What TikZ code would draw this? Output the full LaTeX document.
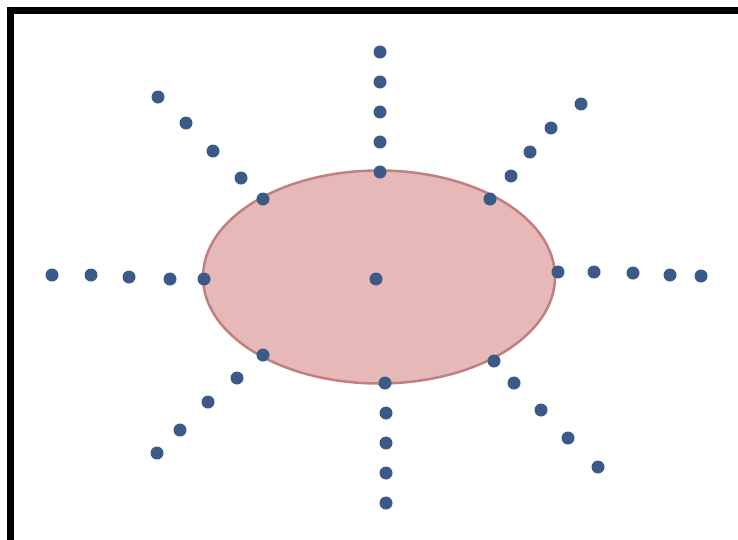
\documentclass[tikz,border=0pt]{standalone}
\usetikzlibrary{positioning,shapes.geometric}
\definecolor{SunFill}{RGB}{230,184,183}
\definecolor{SunEdge}{RGB}{192,128,128}
\definecolor{RayBlue}{RGB}{60,90,135}

\begin{document}
\begin{tikzpicture}[
    x=1pt, y=-1pt,
    sun/.style={ellipse,draw=SunEdge,fill=SunFill,line width=2.5pt,minimum width=352pt,minimum height=213pt,inner sep=0pt},
    ray/.style={circle,fill=RayBlue,minimum size=13pt,inner sep=0pt},
    frame/.style={line width=7pt,black,line join=miter}
]
\useasboundingbox (0,0) rectangle (738,539);
\draw[frame] (10.5,545) -- (10.5,10.5) -- (738,10.5);

\node[sun] (body) at (379,277) {};
\node[ray] (mid) at (376,279) {};

% rays, outer dot first
\foreach \i/\x/\y in {1/380/52, 2/380/82, 3/380/112, 4/380/142, 5/380/172}
  \node[ray] (up\i) at (\x,\y) {};
\foreach \i/\x/\y in {1/386/503, 2/386/473, 3/386/443, 4/386/413, 5/385/383}
  \node[ray] (down\i) at (\x,\y) {};
\foreach \i/\x/\y in {1/52/275, 2/91/275, 3/129/277, 4/170/279, 5/204/279}
  \node[ray] (left\i) at (\x,\y) {};
\foreach \i/\x/\y in {1/701/276, 2/670/275, 3/633/273, 4/594/272, 5/558/272}
  \node[ray] (right\i) at (\x,\y) {};
\foreach \i/\x/\y in {1/158/97, 2/186/123, 3/213/151, 4/241/178, 5/263/199}
  \node[ray] (upleft\i) at (\x,\y) {};
\foreach \i/\x/\y in {1/581/104, 2/551/128, 3/530/152, 4/511/176, 5/490/199}
  \node[ray] (upright\i) at (\x,\y) {};
\foreach \i/\x/\y in {1/157/453, 2/180/430, 3/208/402, 4/237/378, 5/263/355}
  \node[ray] (downleft\i) at (\x,\y) {};
\foreach \i/\x/\y in {1/598/467, 2/568/438, 3/541/410, 4/514/383, 5/494/361}
  \node[ray] (downright\i) at (\x,\y) {};
\end{tikzpicture}
\end{document}
